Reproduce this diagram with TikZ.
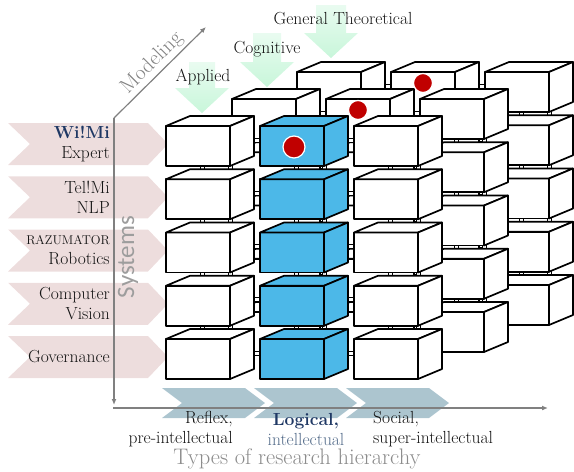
\documentclass[tikz,border=0pt]{standalone}
\usepackage{fontspec}
\setsansfont{Carlito}
\usetikzlibrary{arrows.meta}
\definecolor{boxblue}{RGB}{76,184,232}
\definecolor{dotred}{RGB}{192,0,0}
\definecolor{pinkbg}{RGB}{237,221,221}
\definecolor{chevblue}{RGB}{172,197,207}
\definecolor{mintgreen}{RGB}{200,246,218}
\definecolor{axisgray}{RGB}{128,128,128}
\definecolor{navy}{RGB}{31,56,100}
\definecolor{slateblue}{RGB}{84,108,138}
\definecolor{labelgray}{RGB}{140,140,140}
\definecolor{textdark}{RGB}{20,20,20}
\tikzset{
  boxline/.style={draw=black, line width=1.7pt, line join=round},
  pics/cube/.style={code={
     \path[boxline, fill=#1] (0,0) rectangle (64,40);
     \path[boxline, fill=#1] (0,0) -- (24,-10) -- (88,-10) -- (64,0) -- cycle;
     \path[boxline, fill=#1] (64,0) -- (88,-10) -- (88,30) -- (64,40) -- cycle;
  }},
  rod/.style={draw=black, fill=white, line width=0.7pt},
  lbl/.style={font=\fontsize{17.5}{20}\selectfont, text=textdark, inner sep=0pt},
  axisline/.style={draw=axisgray, line width=1.2pt, -{Latex[length=6pt,width=5pt]}},
  greenarrow/.style={top color=mintgreen!40, bottom color=mintgreen},
  pinkchev/.style={fill=pinkbg},
  bluechev/.style={fill=chevblue},
  reddot/.style={circle, fill=dotred, draw=white, line width=1.2pt, inner sep=0pt},
}
\begin{document}
\begin{tikzpicture}[x=1pt,y=-1pt]
\useasboundingbox (0,0) rectangle (574,472);

% green arrows (modeling levels)
\foreach \ax/\aw/\atop/\ahead/\aend in {331/15/5/33/58, 267/14/33/62/87, 202/13/62/88/113}{
  \shade[greenarrow] (\ax-\aw,\atop) -- (\ax+\aw,\atop) -- (\ax+\aw,\ahead) -- (\ax+27,\ahead)
     -- (\ax,\aend) -- (\ax-27,\ahead) -- (\ax-\aw,\ahead) -- cycle;
}
\node[lbl] (genth) at (343,19) {General Theoretical};
\node[lbl] (cogn) at (267,49) {Cognitive};
\node[lbl] (appl) at (203,77) {Applied};

% pink chevrons (systems)
\foreach \r in {0,...,4}{
  \pgfmathsetmacro\yc{144+53.25*\r}
  \fill[pinkchev] (8,\yc-21) -- (148,\yc-21) -- (168,\yc) -- (148,\yc+21) -- (8,\yc+21) -- (30,\yc) -- cycle;
}
% blue-gray chevrons (research hierarchy)
\foreach \i in {0,1,2}{
  \pgfmathsetmacro\lx{162+92*\i}
  \fill[bluechev] (\lx,388) -- (\lx+83,388) -- (\lx+103,403) -- (\lx+83,418) -- (\lx,418) -- (\lx+20,403) -- cycle;
}

% axes
\coordinate (vtop) at (114,118);
\coordinate (vbot) at (114,405);
\coordinate (hstart) at (113,408);
\coordinate (htip) at (548,408);
\coordinate (dtip) at (206,27);
\draw[axisline] (vtop) -- (vbot);
\draw[axisline] (hstart) -- (htip);
\draw[axisline] (vtop) -- (dtip);

\node[font=\fontsize{21}{24}\selectfont, text=labelgray!110, rotate=45, inner sep=0pt] (modeling) at (152,63) {Modeling};
\node[font=\sffamily\fontsize{25}{28}\selectfont, text=labelgray!85, rotate=90, inner sep=0pt] (systems) at (128,257) {Systems};
\node[font=\fontsize{22.5}{26}\selectfont, text=labelgray, inner sep=0pt] (types) at (297,459) {Types of research hierarchy};

% system labels
\node[lbl, anchor=east, align=right] (s0) at (110,144) {\textbf{\textcolor{navy}{Wi!Mi}}\\Expert};
\node[lbl, anchor=east, align=right] (s1) at (110,197) {Tel!Mi\\NLP};
\node[lbl, anchor=east, align=right] (s2) at (110,250) {{\fontsize{12.8}{15}\selectfont RAZUMATOR}\\Robotics};
\node[lbl, anchor=east, align=right] (s3) at (110,304) {Computer\\Vision};
\node[lbl, anchor=east, align=right] (s4) at (110,357) {Governance};

% hierarchy labels
\node[lbl, anchor=east, align=right] (h0) at (233,429) {Reflex,\\pre-intellectual};
\node[lbl, align=center] (h1) at (306,429) {\textbf{\textcolor{navy}{Logical,}}\\\textcolor{slateblue}{intellectual}};
\node[lbl, anchor=west, align=left] (h2) at (373,429) {Social,\\super-intellectual};

% cubes: back, middle, front layers
\foreach \L/\ox/\oy in {2/131/-54, 1/66/-27, 0/0/0}{
  \foreach \c in {0,1,2}{
    \foreach \r in {0,...,4}{
      \pgfmathsetmacro\bx{166+94*\c+\ox}
      \pgfmathsetmacro\by{126+53.25*\r+\oy}
      \ifnum\c<2 \path[rod] (\bx+86,\by+12) rectangle (\bx+96,\by+16); \fi
      \ifnum\r<4
        \path[rod] (\bx+34,\by+38) rectangle (\bx+38,\by+46);
        \path[rod] (\bx+62,\by+38) rectangle (\bx+66,\by+46);
      \fi
    }
  }
  \foreach \c in {0,1,2}{
    \foreach \r in {0,...,4}{
      \pgfmathsetmacro\bx{166+94*\c+\ox}
      \pgfmathsetmacro\by{126+53.25*\r+\oy}
      \def\fc{white}
      \ifnum\L=0 \ifnum\c=1 \def\fc{boxblue}\fi\fi
      \pic (box-\L-\c-\r) at (\bx,\by) {cube=\fc};
    }
  }
}

% red dots
\node[reddot, minimum size=22pt] (dotfront) at (294,147) {};
\node[reddot, minimum size=19pt] (dotmid) at (358,110) {};
\node[reddot, minimum size=19pt] (dotback) at (423,83) {};
\end{tikzpicture}
\end{document}
